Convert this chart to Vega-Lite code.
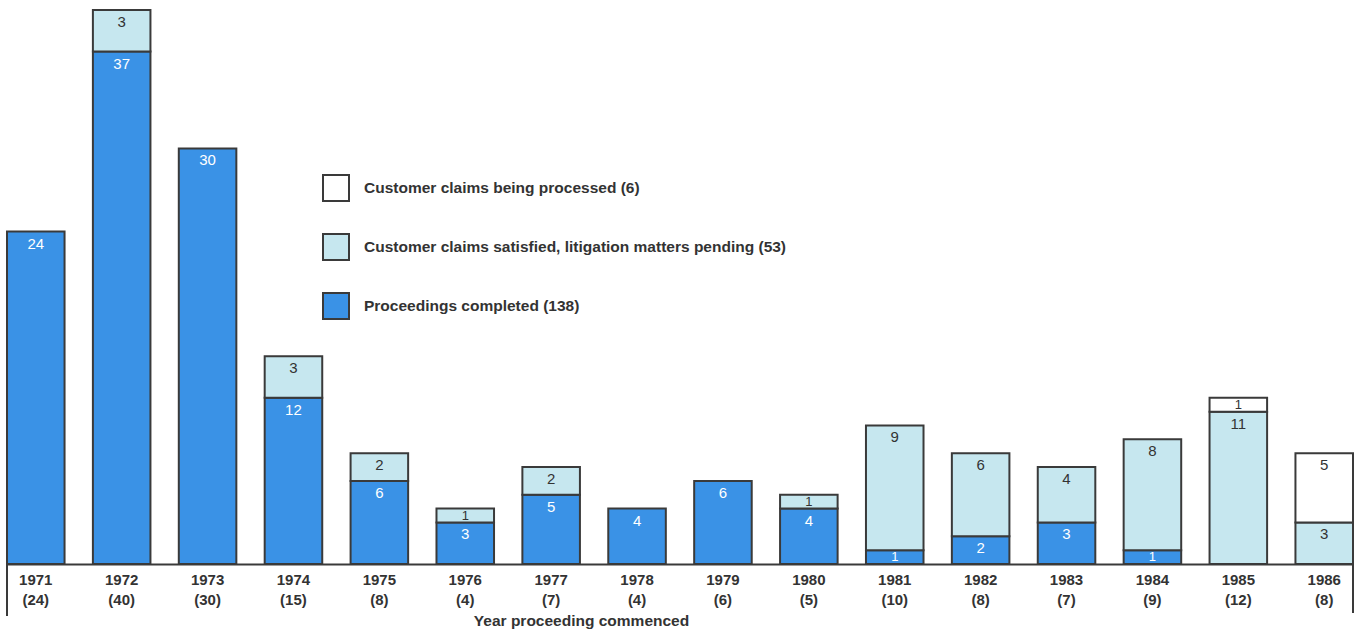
{
  "$schema": "https://vega.github.io/schema/vega-lite/v6.json",
  "width": 1346,
  "height": 564,
  "autosize": {"type": "none"},
  "padding": {"left": 7, "top": 0, "right": 6, "bottom": 73},
  "background": "#ffffff",
  "config": {"view": {"stroke": null}, "font": "Liberation Sans"},
  "data": {
    "values": [
      {"period": "1971 (24)", "status": "Proceedings completed (138)", "count": 24},
      {"period": "1972 (40)", "status": "Proceedings completed (138)", "count": 37},
      {"period": "1972 (40)", "status": "Customer claims satisfied, litigation matters pending (53)", "count": 3},
      {"period": "1973 (30)", "status": "Proceedings completed (138)", "count": 30},
      {"period": "1974 (15)", "status": "Proceedings completed (138)", "count": 12},
      {"period": "1974 (15)", "status": "Customer claims satisfied, litigation matters pending (53)", "count": 3},
      {"period": "1975 (8)", "status": "Proceedings completed (138)", "count": 6},
      {"period": "1975 (8)", "status": "Customer claims satisfied, litigation matters pending (53)", "count": 2},
      {"period": "1976 (4)", "status": "Proceedings completed (138)", "count": 3},
      {"period": "1976 (4)", "status": "Customer claims satisfied, litigation matters pending (53)", "count": 1},
      {"period": "1977 (7)", "status": "Proceedings completed (138)", "count": 5},
      {"period": "1977 (7)", "status": "Customer claims satisfied, litigation matters pending (53)", "count": 2},
      {"period": "1978 (4)", "status": "Proceedings completed (138)", "count": 4},
      {"period": "1979 (6)", "status": "Proceedings completed (138)", "count": 6},
      {"period": "1980 (5)", "status": "Proceedings completed (138)", "count": 4},
      {"period": "1980 (5)", "status": "Customer claims satisfied, litigation matters pending (53)", "count": 1},
      {"period": "1981 (10)", "status": "Proceedings completed (138)", "count": 1},
      {"period": "1981 (10)", "status": "Customer claims satisfied, litigation matters pending (53)", "count": 9},
      {"period": "1982 (8)", "status": "Proceedings completed (138)", "count": 2},
      {"period": "1982 (8)", "status": "Customer claims satisfied, litigation matters pending (53)", "count": 6},
      {"period": "1983 (7)", "status": "Proceedings completed (138)", "count": 3},
      {"period": "1983 (7)", "status": "Customer claims satisfied, litigation matters pending (53)", "count": 4},
      {"period": "1984 (9)", "status": "Proceedings completed (138)", "count": 1},
      {"period": "1984 (9)", "status": "Customer claims satisfied, litigation matters pending (53)", "count": 8},
      {"period": "1985 (12)", "status": "Customer claims satisfied, litigation matters pending (53)", "count": 11},
      {"period": "1985 (12)", "status": "Customer claims being processed (6)", "count": 1},
      {"period": "1986 (8)", "status": "Customer claims satisfied, litigation matters pending (53)", "count": 3},
      {"period": "1986 (8)", "status": "Customer claims being processed (6)", "count": 5}
    ]
  },
  "layer": [
    {
      "mark": {"type": "bar", "stroke": "#3a3a3a", "strokeWidth": 2},
      "encoding": {
        "x": {
          "field": "period",
          "type": "nominal",
          "sort": null,
          "scale": {"paddingInner": 0.33, "paddingOuter": 0},
          "axis": {
            "title": "Year proceeding commenced",
            "labelExpr": "split(datum.label, ' ')",
            "labelAngle": 0,
            "labelFontSize": 15,
            "labelFontWeight": "bold",
            "labelColor": "#333333",
            "labelPadding": 8,
            "labelLineHeight": 20,
            "ticks": false,
            "domainColor": "#3a3a3a",
            "domainWidth": 2,
            "titleFontSize": 15.5,
            "titleFontWeight": "bold",
            "titleColor": "#333333",
            "titleX": 574,
            "titleY": 61,
            "titleAlign": "center",
            "titleBaseline": "alphabetic"
          }
        },
        "y": {
          "field": "count",
          "type": "quantitative",
          "stack": "zero",
          "scale": {"domain": [0, 40.72], "nice": false},
          "axis": null
        },
        "order": {"field": "status", "sort": "descending"},
        "color": {
          "field": "status",
          "type": "nominal",
          "scale": {
            "domain": [
              "Customer claims being processed (6)",
              "Customer claims satisfied, litigation matters pending (53)",
              "Proceedings completed (138)"
            ],
            "range": ["#ffffff", "#c6e7ef", "#3a92e6"]
          },
          "legend": {
            "orient": "none",
            "legendX": 315,
            "legendY": 174,
            "title": null,
            "symbolType": "square",
            "symbolSize": 676,
            "symbolStrokeColor": "#3a3a3a",
            "symbolStrokeWidth": 2,
            "symbolOpacity": 1,
            "labelFontSize": 15.5,
            "labelFontWeight": "bold",
            "labelColor": "#333333",
            "labelOffset": 14,
            "labelLimit": 600,
            "rowPadding": 25
          }
        }
      }
    },
    {
      "transform": [
        {
          "stack": "count",
          "groupby": ["period"],
          "sort": [{"field": "status", "order": "descending"}],
          "as": ["seg_start", "seg_end"]
        }
      ],
      "layer": [
        {
          "transform": [{"filter": "datum.count > 1"}],
          "mark": {"type": "text", "dy": 12, "fontSize": 15, "baseline": "middle"},
          "encoding": {
            "x": {"field": "period", "type": "nominal", "sort": null},
            "y": {"field": "seg_end", "type": "quantitative"},
            "text": {"field": "count", "type": "quantitative"},
            "color": {
              "condition": {"test": "datum.status === 'Proceedings completed (138)'", "value": "#ffffff"},
              "value": "#333333"
            }
          }
        },
        {
          "transform": [{"filter": "datum.count <= 1"}],
          "mark": {"type": "text", "dy": 7, "fontSize": 13, "baseline": "middle"},
          "encoding": {
            "x": {"field": "period", "type": "nominal", "sort": null},
            "y": {"field": "seg_end", "type": "quantitative"},
            "text": {"field": "count", "type": "quantitative"},
            "color": {
              "condition": {"test": "datum.status === 'Proceedings completed (138)'", "value": "#ffffff"},
              "value": "#333333"
            }
          }
        }
      ]
    },
    {
      "mark": {"type": "rule", "stroke": "#3a3a3a", "strokeWidth": 2},
      "encoding": {
        "x": {"datum": "1971 (24)", "bandPosition": 0},
        "y": {"datum": 0},
        "y2": {"datum": -3.7}
      }
    },
    {
      "mark": {"type": "rule", "stroke": "#3a3a3a", "strokeWidth": 2},
      "encoding": {
        "x": {"datum": "1986 (8)", "bandPosition": 1},
        "y": {"datum": 0},
        "y2": {"datum": -3.5}
      }
    }
  ]
}
